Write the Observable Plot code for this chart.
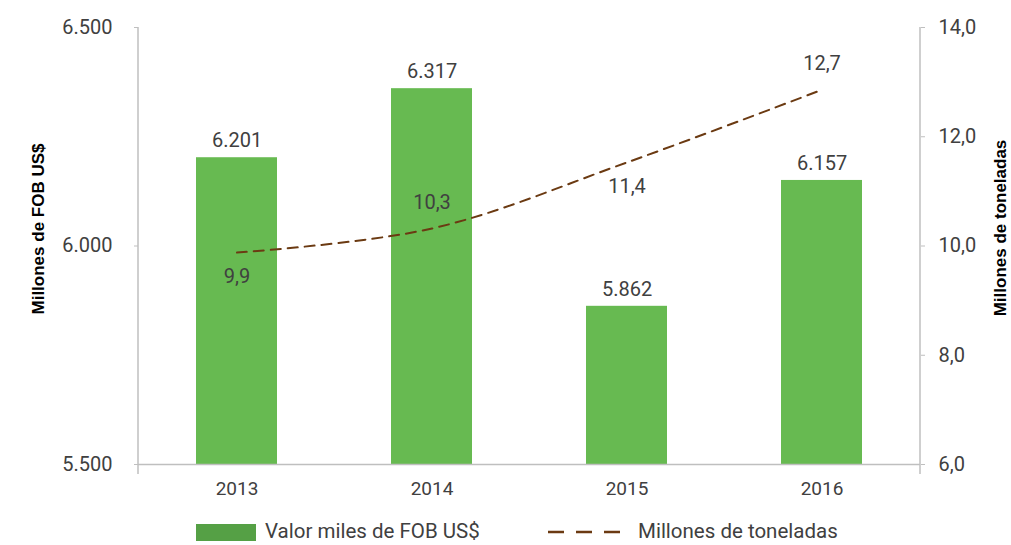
<!DOCTYPE html>
<html>
<head>
<meta charset="utf-8">
<script src="https://cdn.jsdelivr.net/npm/d3@7"></script>
<script src="https://cdn.jsdelivr.net/npm/@observablehq/plot@0.6"></script>
<style>
  body { margin: 0; background: #fff; font-family: Roboto, sans-serif; }
  #legend { position: relative; height: 35px; font-size: 20.5px; color: #404040; }
  #legend > * { position: absolute; }
  #legend .sw { left: 196px; top: 14px; width: 60px; height: 17px; background: #55a045; }
  #legend .t1 { left: 265px; top: 9px; }
  #legend svg { left: 548px; top: 18px; }
  #legend .t2 { left: 638px; top: 9px; }
</style>
</head>
<body>
<div id="chart"></div>
<div id="legend"></div>
<script>
const years = ["2013", "2014", "2015", "2016"];
const valorFOB = [6202, 6360, 5862, 6150];
const valorLabels = ["6.201", "6.317", "5.862", "6.157"];
const toneladas = [9.88, 10.32, 11.53, 12.86];
const toneladasLabels = ["9,9", "10,3", "11,4", "12,7"];
const leftTicks = [5500, 6000, 6500];
const leftTickLabels = ["5.500", "6.000", "6.500"];
const rightTicks = [6, 8, 10, 12, 14];
const rightTickLabels = ["6,0", "8,0", "10,0", "12,0", "14,0"];
const leftTitle = "Millones de FOB US$";
const rightTitle = "Millones de toneladas";
const legendBar = "Valor miles de FOB US$";
const legendLine = "Millones de toneladas";

const leftDomain = [5500, 6500];
const rightDomain = [6, 14];
const toLeft = r => leftDomain[0] + (r - rightDomain[0]) / (rightDomain[1] - rightDomain[0]) * (leftDomain[1] - leftDomain[0]);

const rows = years.map((y, i) => ({year: y, fob: valorFOB[i], fobLabel: valorLabels[i], ton: toLeft(toneladas[i]), tonLabel: toneladasLabels[i], i}));

const green = "#67ba51";
const brown = "#6b3a12";
const textColor = "#404040";
const axisColor = "#bfbfbf";
const titleFont = "'Liberation Sans', Arial, sans-serif";

const chart = Plot.plot({
  width: 1011,
  height: 510,
  marginLeft: 138,
  marginRight: 91,
  marginTop: 27,
  marginBottom: 46,
  style: {fontFamily: "Roboto, sans-serif", fontSize: "20px", color: textColor, background: "#fff"},
  x: {domain: years, paddingInner: 0.584, paddingOuter: 0.292, label: null},
  y: {domain: leftDomain, label: null},
  marks: [
    Plot.barY(rows, {x: "year", y1: leftDomain[0], y2: "fob", fill: green}),
    Plot.ruleY([leftDomain[0]], {stroke: axisColor, strokeWidth: 1.5}),
    Plot.axisY(leftTicks, {anchor: "left", tickSize: 4, tickPadding: 22, stroke: axisColor, fill: textColor, fontSize: 20,
      tickFormat: d => leftTickLabels[leftTicks.indexOf(d)], label: null}),
    Plot.axisY(rightTicks.map(toLeft), {anchor: "right", tickSize: 4, tickPadding: 14, stroke: axisColor, fill: textColor, fontSize: 20,
      tickFormat: d => rightTickLabels[rightTicks.map(toLeft).findIndex(v => Math.abs(v - d) < 1e-6)], label: null}),
    Plot.axisX({tickSize: 0, tickPadding: 17, fill: textColor, fontSize: 19, label: null}),
    Plot.lineY(rows, {x: "year", y: "ton", curve: "catmull-rom", stroke: brown, strokeWidth: 2, strokeDasharray: "10,7"}),
    Plot.text(rows, {x: "year", y: "fob", text: "fobLabel", dy: -17, fill: textColor, fontSize: 20}),
    Plot.text(rows.filter(d => d.i % 2 === 0), {x: "year", y: "ton", text: "tonLabel", dy: 24, fill: textColor, fontSize: 20}),
    Plot.text(rows.filter(d => d.i % 2 === 1), {x: "year", y: "ton", text: "tonLabel", dy: -26, fill: textColor, fontSize: 20}),
    Plot.text([leftTitle], {frameAnchor: "left", textAnchor: "middle", rotate: -90, dx: -100, dy: -17, fontWeight: "bold", fontSize: 17, fill: "#000", fontFamily: titleFont}),
    Plot.text([rightTitle], {frameAnchor: "right", textAnchor: "middle", rotate: -90, dx: 80, dy: -18, fontWeight: "bold", fontSize: 17, fill: "#000", fontFamily: titleFont})
  ]
});

// vertical axis lines derived from the scales
const xr = chart.scale("x").range;
const yr = chart.scale("y").range;
const svg = d3.select(chart.tagName === "svg" ? chart : chart.querySelector("svg"));
[xr[0], xr[1]].forEach(x => {
  svg.append("line")
    .attr("x1", x).attr("x2", x)
    .attr("y1", yr[1]).attr("y2", yr[0] + 10)
    .attr("stroke", axisColor).attr("stroke-width", 1.5);
});
document.getElementById("chart").appendChild(chart);

const lg = document.getElementById("legend");
lg.innerHTML = `<div class="sw"></div><span class="t1">${legendBar}</span>
<svg width="78" height="8"><line x1="0" y1="4" x2="78" y2="4" stroke="${brown}" stroke-width="2.5" stroke-dasharray="16,12"></line></svg><span class="t2">${legendLine}</span>`;
</script>
</body>
</html>
